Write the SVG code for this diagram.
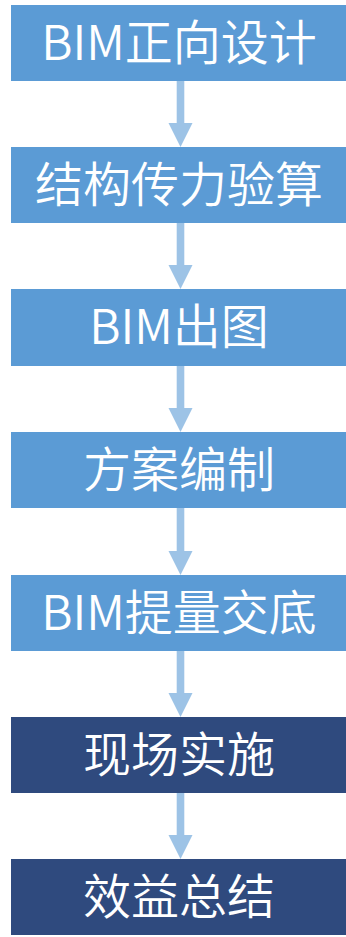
<svg xmlns="http://www.w3.org/2000/svg" width="346" height="937" viewBox="0 0 346 937">
<style>
.lb{fill:#5B9BD5}
.db{fill:#2F4A7E}
.t{font-family:"Noto Sans CJK SC","Noto Sans",sans-serif;font-size:48px;font-weight:350;fill:#FFFFFF;text-anchor:middle}
.ar{fill:#9DC3E6}
</style>
<rect width="346" height="937" fill="#FFFFFF"/>
<g id="connectors">
<path class="ar" d="M176.7,81 H184.3 V123 H192.5 L180.5,147 L168.5,123 H176.7 Z"/>
<path class="ar" d="M176.7,223 H184.3 V265 H192.5 L180.5,289 L168.5,265 H176.7 Z"/>
<path class="ar" d="M176.7,366 H184.3 V408 H192.5 L180.5,432 L168.5,408 H176.7 Z"/>
<path class="ar" d="M176.7,508 H184.3 V551 H192.5 L180.5,575 L168.5,551 H176.7 Z"/>
<path class="ar" d="M176.7,651 H184.3 V693 H192.5 L180.5,717 L168.5,693 H176.7 Z"/>
<path class="ar" d="M176.7,793 H184.3 V835 H192.5 L180.5,859 L168.5,835 H176.7 Z"/>
</g>
<g id="n1"><rect class="lb" x="11" y="5" width="335" height="76"/><text class="t" x="179" y="60">BIM正向设计</text></g>
<g id="n2"><rect class="lb" x="11" y="147" width="335" height="76"/><text class="t" x="179" y="202">结构传力验算</text></g>
<g id="n3"><rect class="lb" x="11" y="289" width="335" height="77"/><text class="t" x="179" y="344">BIM出图</text></g>
<g id="n4"><rect class="lb" x="11" y="432" width="335" height="76"/><text class="t" x="179" y="487">方案编制</text></g>
<g id="n5"><rect class="lb" x="11" y="575" width="335" height="76"/><text class="t" x="179" y="630">BIM提量交底</text></g>
<g id="n6"><rect class="db" x="11" y="717" width="335" height="76"/><text class="t" x="179" y="772">现场实施</text></g>
<g id="n7"><rect class="db" x="11" y="859" width="335" height="76"/><text class="t" x="179" y="914">效益总结</text></g>
</svg>
